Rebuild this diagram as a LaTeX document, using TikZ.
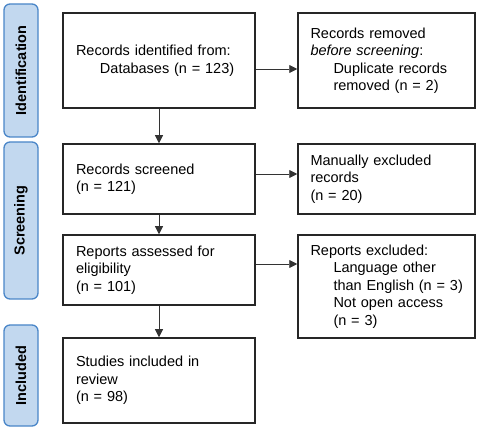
\documentclass[tikz,border=0pt]{standalone}
\usepackage{fontspec}
\setmainfont{Liberation Sans}
\usetikzlibrary{arrows.meta}
\definecolor{stagefill}{HTML}{C2D8EF}
\definecolor{stageline}{HTML}{4A86C8}
\newcommand{\indline}[1]{\mbox{\hspace*{23pt}#1}}
\begin{document}
\begin{tikzpicture}[x=1pt, y=-1pt,
    box/.style={draw=black!85, line width=1.5pt, align=left, inner ysep=0pt,
        font=\fontsize{14.5}{17.5}\selectfont},
    mainbox/.style={box, text width=166pt, inner xsep=13pt},
    sidebox/.style={box, text width=152pt, inner xsep=12.5pt},
    stage/.style={draw=stageline, fill=stagefill, line width=1.3pt, rounded corners=6pt,
        rotate=90, minimum height=34pt, inner sep=0pt, font=\fontsize{14.5}{17.5}\selectfont\bfseries},
    arr/.style={-{Triangle[length=8pt,width=8pt]}, line width=0.8pt, draw=black!80}]
    \useasboundingbox (0,0) rectangle (480,433);

    \node[stage, minimum width=133pt] (sid) at (21,70.5) {Identification};
    \node[stage, minimum width=157pt] (sscr) at (21,220.5) {Screening};
    \node[stage, minimum width=101pt] (sinc) at (21,375.5) {Included};

    \node[mainbox, minimum height=95pt] (ident) at (159,60.5)
        {Records identified from:\\\mbox{\hspace*{24pt}Databases (n = 123)}};
    \node[sidebox, minimum height=95pt] (dupl) at (386.5,60.5)
        {Records removed\\\textit{before screening}:\\\indline{Duplicate records}\\\indline{removed (n = 2)}};
    \node[mainbox, minimum height=70pt] (screen) at (159,179)
        {Records screened\\(n = 121)};
    \node[sidebox, minimum height=70pt] (manual) at (386.5,179)
        {Manually excluded\\records\\(n = 20)};
    \node[mainbox, minimum height=70pt] (assess) at (159,270)
        {Reports assessed for\\eligibility\\(n = 101)};
    \node[sidebox, minimum height=103pt] (excl) at (386.5,286.5)
        {Reports excluded:\\\indline{Language other}\\\indline{than English (n = 3)}\\\indline{Not open access}\\\indline{(n = 3)}};
    \node[mainbox, minimum height=85pt] (incl) at (159,380.5)
        {Studies included in\\review\\(n = 98)};

    \draw[arr] (ident) -- (screen);
    \draw[arr] (screen) -- (assess);
    \draw[arr] (assess) -- (incl);
    \draw[arr] ([yshift=-8.5pt]ident.east) -- ([yshift=-8.5pt]ident.east -| dupl.west);
    \draw[arr] ([yshift=5pt]screen.east) -- ([yshift=5pt]screen.east -| manual.west);
    \draw[arr] ([yshift=6pt]assess.east) -- ([yshift=6pt]assess.east -| excl.west);
\end{tikzpicture}
\end{document}
